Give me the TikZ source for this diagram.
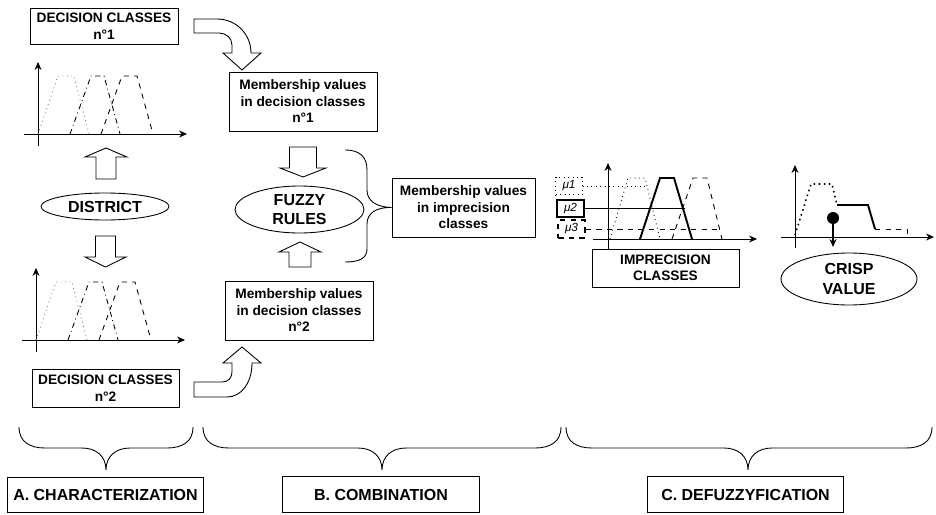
\documentclass[tikz,border=0pt]{standalone}
\usepackage{fontspec}
\setmainfont{Liberation Sans}
\usetikzlibrary{shapes.geometric,arrows.meta}

\tikzset{
  box/.style={draw, rectangle, inner sep=0pt, align=center,
    font=\fontsize{7.8}{9.4}\selectfont\bfseries},
  oval/.style={draw, ellipse, inner sep=0pt, align=center,
    font=\fontsize{9.1}{11}\selectfont\bfseries},
  stage/.style={draw, rectangle, inner sep=0pt, minimum height=0.71cm,
    minimum width=3.93cm, font=\fontsize{9.1}{11}\selectfont\bfseries},
  mubox/.style={draw, rectangle, inner sep=0pt, minimum width=0.53cm,
    minimum height=0.35cm, font=\fontsize{6.7}{8}\selectfont\itshape},
  pics/blockarrow/.style n args={4}{code={%
    \draw[fill=white] (0,0) -- (-#1,-#3) -- (-#2,-#3) -- (-#2,-#4)
      -- (#2,-#4) -- (#2,-#3) -- (#1,-#3) -- cycle;}}
}
\newcommand{\hbrace}[3]{%
  \draw (#1,427) .. controls (#1,442) and ({#1+11},448) .. ({#1+26},448)
    -- ({#3-24},448) .. controls ({#3-10},448) and (#3,456) .. (#3,470)
    .. controls (#3,456) and ({#3+10},448) .. ({#3+24},448)
    -- ({#2-26},448) .. controls ({#2-11},448) and (#2,442) .. (#2,427);}

\begin{document}
\begin{tikzpicture}[x=0.02cm,y=-0.02cm,line width=0.5pt,>={Stealth[length=4.5pt,width=4pt]}]
  \useasboundingbox (0,0) rectangle (936,514);

  % A. characterization
  \node[box, minimum width=2.96cm, minimum height=0.72cm] (dc1) at (104,26) {DECISION CLASSES\\n°1};
  \node[box, minimum width=2.94cm, minimum height=0.76cm] (dc2) at (105.5,388) {DECISION CLASSES\\n°2};
  \node[oval, minimum width=2.56cm, minimum height=0.54cm] (district) at (105,206.5) {DISTRICT};
  \foreach \ox/\oy in {38/134, 36/340}{
    \begin{scope}[shift={(\ox,\oy)}]
      \draw[->] (0,12) -- (0,-72);
      \draw[->] (-14,0) -- (149,0);
      \draw[gray,dotted] (0,0) -- (20,-58) -- (36,-58) -- (51,0);
      \draw[dash dot] (32,0) -- (53,-58) -- (66,-58) -- (82,0);
      \draw[dashed] (63,0) -- (84,-58) -- (99,-58) -- (115,0);
    \end{scope}
  }
  \pic[rotate=180] at (106,148) {blockarrow={21}{10}{9}{31}};
  \pic at (105.5,267) {blockarrow={20.5}{10}{10}{31}};

  % B. combination
  \node[box, minimum width=2.96cm, minimum height=1.18cm] (mv1) at (303,101.5) {Membership values\\in decision classes\\n°1};
  \node[box, minimum width=2.96cm, minimum height=1.18cm] (mv2) at (299,310.5) {Membership values\\in decision classes\\n°2};
  \node[box, minimum width=2.86cm, minimum height=1.18cm] (mvi) at (463.5,207.5) {Membership values\\in imprecision\\classes};
  \node[oval, minimum width=2.58cm, minimum height=0.94cm] (fuzzy) at (299.5,209.5) {FUZZY\\RULES};
  \pic at (303,177) {blockarrow={23}{13.5}{9}{30}};
  \pic[rotate=180] at (300,242) {blockarrow={21}{11}{10}{25}};
  \draw[fill=white] (194,19) -- (217,19) .. controls (236,19) and (251,34) .. (251,53)
    -- (261,53) -- (242,70) -- (223,53) -- (232,53) -- (232,45)
    .. controls (232,38) and (226,33) .. (219,33) -- (194,33) -- cycle;
  \draw[fill=white] (194,397) -- (227,397) .. controls (242,397) and (252,382) .. (252,363)
    -- (261,363) -- (242,347) -- (223,363) -- (232,363) -- (232,372)
    .. controls (232,378) and (228,382) .. (222,382) -- (194,382) -- cycle;
  \draw (345,150) .. controls (360,150) and (367,157) .. (367,170) -- (367,190)
    .. controls (367,200) and (375,207) .. (mvi.west)
    .. controls (375,207) and (367,214) .. (367,224) -- (367,249)
    .. controls (367,258) and (360,262) .. (345,262);

  % C. defuzzyfication
  \node[box, minimum width=2.94cm, minimum height=0.76cm] (imp) at (665.5,268) {IMPRECISION\\CLASSES};
  \node[mubox, dotted] (mu1) at (569,186) {μ1};
  \node[mubox, line width=1.1pt] (mu2) at (570.5,208.5) {μ2};
  \node[mubox, dashed, line width=1.1pt] (mu3) at (571.5,229) {μ3};
  \draw[->] (608,249) -- (608,163);
  \draw[->] (593,239) -- (757,239);
  \draw[dotted] (610,239) -- (628,178) -- (645,178) -- (660,239);
  \draw[line width=1.1pt] (640,239) -- (660,178) -- (674,178) -- (692,239);
  \draw[dashed] (672,239) -- (693,178) -- (707,178) -- (722,239);
  \draw[dotted] (mu1.east) -- ++(64,0);
  \draw[line width=1.1pt] (mu2.east) -- ++(100,0);
  \draw[dashed] (mu3.east) -- ++(135,0);

  \node[oval, minimum width=2.72cm, minimum height=1.04cm] (crisp) at (849,279) {CRISP\\VALUE};
  \draw[->] (795,248) -- (795,165);
  \draw[->] (781,237) -- (934,237);
  \draw[dotted, line width=0.9pt] (795,235) -- (811,184) -- (832,184) -- (837,205);
  \draw[line width=1.1pt] (837,205) -- (868,205) -- (875,229);
  \draw[dashed] (875,229) -- (907,229) -- (907,236);
  \fill (833,218) circle (0.12cm);
  \draw[->, line width=1.1pt] (833,218) -- (833,247);

  % stages
  \hbrace{19}{193}{106}
  \hbrace{203}{561}{382}
  \hbrace{566}{932}{748}
  \node[stage] (stA) at (105.5,495) {A. CHARACTERIZATION};
  \node[stage] (stB) at (381,494.5) {B. COMBINATION};
  \node[stage] (stC) at (745.5,494.5) {C. DEFUZZYFICATION};
\end{tikzpicture}
\end{document}
